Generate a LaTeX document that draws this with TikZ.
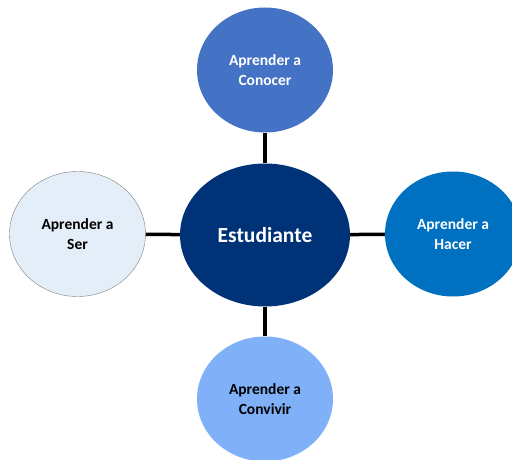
\documentclass[tikz,border=0pt]{standalone}
\usepackage{fontspec}
\setmainfont{Carlito}
\usepackage{tikz}
\usetikzlibrary{shapes.geometric}
\definecolor{navy}{RGB}{0,50,120}
\definecolor{midblue}{RGB}{68,114,196}
\definecolor{strongblue}{RGB}{0,112,192}
\definecolor{lightblue}{RGB}{127,176,248}
\definecolor{paleblue}{RGB}{228,238,248}
\tikzset{
    pillar/.style={
        ellipse,
        minimum width=136pt,
        minimum height=125pt,
        inner sep=0pt,
        align=center,
        font=\fontsize{15.5}{20.5}\selectfont\bfseries
    },
    link/.style={
        draw,
        line width=3.5pt
    }
}

\begin{document}
\begin{tikzpicture}[x=1pt, y=1pt]
    \useasboundingbox (0,0) rectangle (512,459);
    \clip (0,0) rectangle (512,459);
    % Vertices
    \node[ellipse, fill=navy, text=white, minimum width=170pt, minimum height=143pt,
          inner sep=0pt, font=\fontsize{21.5}{26}\selectfont\bfseries] (est) at (265,224) {Estudiante};
    \node[pillar, fill=midblue, text=white] (conocer) at (265,389) {Aprender a\\Conocer};
    \node[pillar, fill=strongblue, text=white] (hacer) at (453,225) {Aprender a\\Hacer};
    \node[pillar, fill=paleblue, draw=gray, thin, text=black] (ser) at (77.5,225) {Aprender a\\Ser};
    \node[pillar, fill=lightblue, text=black] (convivir) at (265,60) {Aprender a\\Convivir};

    % Edges
    \draw[link] (est) -- (conocer);
    \draw[link] (est) -- (hacer);
    \draw[link] (est) -- (ser);
    \draw[link] (est) -- (convivir);
\end{tikzpicture}
\end{document}
